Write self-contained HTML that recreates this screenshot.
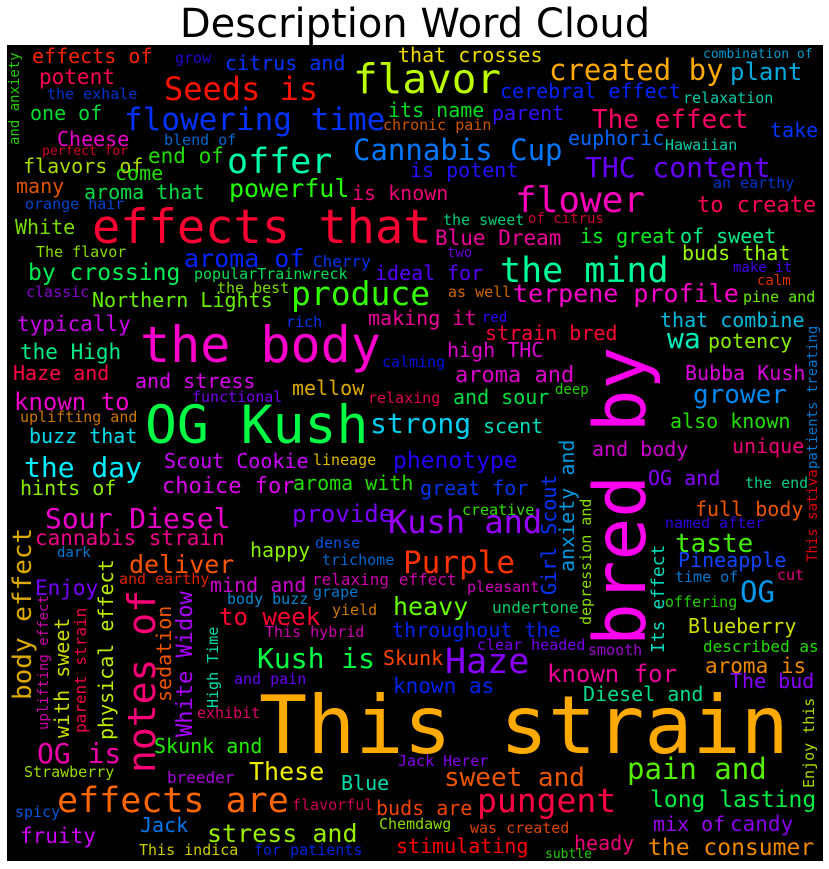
<!DOCTYPE html>
<html><head><meta charset="utf-8"><title>Description Word Cloud</title>
<style>
html,body{margin:0;padding:0;background:#fff;}
body{width:829px;height:869px;overflow:hidden;}
svg{display:block;}
#words text{font-family:"DejaVu Sans Mono","Liberation Mono",monospace;}
</style></head>
<body>
<svg id="chart" width="829" height="869" xmlns="http://www.w3.org/2000/svg">
<text x="415" y="37" text-anchor="middle" font-size="40" style="font-family:'DejaVu Sans','Liberation Sans',sans-serif" fill="#000">Description Word Cloud</text>
<rect x="7" y="45" width="816" height="816" fill="#000"/>
<g id="words"></g>
</svg>
<script>
const words=["effects of","grow","citrus and","flavor","that crosses","combination of","potent","Seeds is","created by","plant",
"the exhale","cerebral effect","relaxation","one of","flowering time","its name","parent","The effect","chronic pain","take",
"Cheese","blend of","euphoric","Hawaiian","Cannabis Cup","perfect for","end of","offer","THC content","flavors of",
"come","is potent","an earthy","flower","many","aroma that","powerful","is known","to create","orange hair",
"effects that","the sweet","of citrus","White","The flavor","two","aroma of","Cherry","Blue Dream","is great",
"of sweet","buds that","the mind","make it","classic","popularTrainwreck","ideal","for","calm","the best",
"as well","pine and","by crossing","produce","terpene profile","Northern Lights","making it","red","that combine","typically",
"wa","strain bred","rich","the body","potency","the High","high THC","calming","Haze and","and stress",
"aroma and","mellow","Bubba Kush","known to","relaxing","and sour","deep","grower","uplifting and","functional",
"OG Kush","strong","scent","also known","buzz that","unique","and body","the day","Scout Cookie","lineage",
"phenotype","hints of","choice for","aroma with","great for","OG and","the end","full body","creative","provide",
"Kush and","Sour Diesel","named after","cannabis strain","dark","dense","taste","deliver","Purple","trichome",
"happy","Pineapple","OG","Enjoy","and earthy","mind and","time of","relaxing effect","cut","body buzz",
"grape","heavy","pleasant","to week","yield","undertone","offering","throughout the","Kush is","Haze",
"This hybrid","Blueberry","clear headed","smooth","described as","Skunk","known for","aroma is","and pain","known as",
"The bud","exhibit","This strain","Diesel and","OG is","Skunk and","These","Jack Herer","breeder","Strawberry",
"Blue","sweet and","pain and","effects are","flavorful","pungent","long lasting","spicy","Chemdawg","mix of",
"candy","buds are","Jack","stress and","was created","fruity","heady","stimulating","the consumer","This indica",
"for patients","subtle",
"and anxiety","bred by","notes of","body effect","with sweet","physical effect","White Widow","sedation","High Time","parent strain",
"uplifting effect","Girl Scout","anxiety and","depression and","Its effect","This sativa","patients treating","Enjoy this"];
const fontSizes=[20,15,20,41,20,13,21,32,29,24,
15,20,15,20,31,20,20,26,15,20,
20,15,20,15,29,13,21,35,28,20,
20,20,15,36,20,20,25,20,22,15,
47,15,14,20,15,14,25,16,21,20,
20,20,35,14,15,15,20,20,14,15,
15,15,23,33,25,20,20,14,20,21,
28,20,15,50,20,21,20,15,20,20,
22,20,20,24,15,20,14,26,15,15,
53,28,20,20,20,20,20,28,20,15,
23,20,22,20,20,20,15,20,15,24,
32,28,15,21,14,15,26,25,31,15,
20,20,29,21,15,20,15,16,15,15,
15,25,15,24,15,16,15,20,28,35,
15,20,15,15,16,20,24,21,15,21,
20,15,80,20,28,20,25,15,16,15,
20,26,29,35,15,33,23,15,15,20,
21,20,20,25,15,21,20,20,23,15,
15,13,
14,71,38,26,20,20,22,20,15,16,
14,20,20,15,18,14,14,15];
const colors=["#ff2200","#2200cc","#0033ff","#bbff00","#eedd00","#0099cc","#ff0055","#ff1100","#ffaa00","#00aadd",
"#0033cc","#0022ff","#00ccaa","#00dd33","#0033ff","#00dd22","#3311ff","#ff0066","#cc5500","#0033ff",
"#ee00cc","#0066cc","#0066ff","#00ccaa","#0077ff","#cc0022","#22dd00","#00ffaa","#6600ff","#aadd00",
"#22dd00","#2211ff","#0033cc","#ff00bb","#dd5500","#00dd44","#22ff00","#ee0077","#ff0055","#0044cc",
"#ff0033","#00cc77","#cc0033","#77dd00","#88dd00","#6600cc","#0022ff","#0033ee","#ee0099","#00ee22",
"#00ee88","#99ff00","#00ff99","#4400ee","#8800cc","#00dd55","#5500ff","#5500ff","#dd3300","#77dd00",
"#cc6600","#66ee00","#00ee55","#33ff00","#ff00cc","#66ee00","#ee0099","#3300ff","#00bbdd","#cc00ee",
"#00eebb","#ff0033","#0033ee","#ff00cc","#88ee00","#00ee88","#dd00cc","#0011dd","#ff0044","#dd00ee",
"#dd00cc","#ddaa00","#dd00dd","#ee00cc","#dd0055","#00dd44","#22cc00","#0088ee","#cc7700","#7700ee",
"#00ff44","#00ccee","#00ddbb","#22dd00","#00ddee","#ee0077","#cc00cc","#00eeff","#cc00ff","#ddbb00",
"#2200ff","#88ee00","#dd00ee","#22dd00","#0033ee","#8800ff","#00cc88","#ee5500","#33dd00","#7700ff",
"#9900ff","#ee00cc","#3300dd","#ee0088","#0077cc","#0055dd","#44ee00","#ff5500","#ff3300","#0066cc",
"#88ee00","#1144ff","#0099ee","#7700ff","#dd2200","#cc00cc","#0077cc","#cc00aa","#dd0077","#0088cc",
"#0077cc","#66ff00","#cc00bb","#ff0033","#cc7700","#00cc66","#22cc00","#0022ee","#00ff44","#8800ff",
"#cc00aa","#ccdd00","#7700ee","#9900cc","#22dd00","#ff4400","#ee0099","#ee8800","#6600ee","#0022ee",
"#8800ff","#dd0066","#ffaa00","#00dd88","#ee00aa","#22ee00","#eeee00","#8800ee","#aa00dd","#99dd00",
"#00ddaa","#ee5500","#55ee00","#ff6600","#cc0055","#ff0044","#00ee44","#0055dd","#88dd00","#9900ee",
"#8800ee","#ee4400","#0077ee","#99ee00","#dd4400","#cc00ff","#ee0077","#ff0000","#ee8800","#cccc00",
"#0022dd","#22cc00",
"#22cc00","#ff00ee","#ff0077","#ddaa00","#ccdd00","#bbee00","#aa00ff","#ee5500","#00ddaa","#ee0044",
"#cc00aa","#0033ff","#0099dd","#88dd00","#00ddbb","#dd0000","#0077cc","#aadd00"];
const xPos=[32,175,225,353,398,703,39,164,549,730,
47,500,683,30,124,388,492,592,383,770,
57,164,568,665,353,42,148,227,585,23,
115,410,713,515,16,84,229,352,697,25,
92,443,528,15,36,447,184,313,435,580,
680,682,500,733,26,194,375,447,757,217,
448,743,28,291,513,92,368,482,660,17,
667,485,286,140,708,20,447,382,13,135,
455,292,685,14,368,453,555,693,20,192,
145,370,483,670,29,732,592,24,164,313,
393,20,162,293,420,648,745,695,462,292,
388,45,665,35,57,315,675,129,403,322,
250,678,740,35,119,210,675,312,777,227,
313,393,467,219,332,492,665,392,257,445,
265,688,477,588,703,383,547,705,234,393,
730,197,259,583,37,154,249,398,167,24,
341,444,627,57,292,477,650,15,379,653,
730,376,140,207,470,20,574,396,648,139,
254,545,
19,645,155,31,69,113,192,171,218,86,
48,556,574,591,664,817,817,814];
const yPos=[63,63,70,93,62,58,84,100,80,80,
99,98,103,120,130,117,120,128,130,137,
146,145,145,150,160,155,163,173,177,173,
180,177,188,212,193,199,197,200,212,209,
243,225,223,234,257,257,267,267,245,243,
243,260,282,272,297,279,280,280,285,293,
297,302,280,305,302,307,325,322,327,331,
348,340,327,362,348,359,357,367,380,388,
382,395,380,410,403,404,394,403,422,402,
443,433,433,428,443,453,456,477,468,465,
468,495,493,490,495,485,488,516,515,522,
533,528,528,545,557,548,552,573,573,565,
557,567,602,595,584,592,582,585,580,604,
597,615,592,625,615,613,607,637,668,673,
637,633,650,655,652,665,682,673,684,693,
688,718,753,701,763,753,780,766,783,777,
790,786,779,812,810,812,807,817,829,831,
831,815,832,842,833,843,850,853,855,855,
855,858,
145,646,773,700,738,740,737,702,708,733,
730,595,572,625,653,562,469,788];
const rot=[];
words.forEach((w,i)=>rot.push(i>=182?-90:0));

const g=document.getElementById('words');
words.forEach((w,i)=>{
  const t=document.createElementNS('http://www.w3.org/2000/svg','text');
  t.setAttribute('x',xPos[i]);
  t.setAttribute('y',yPos[i]);
  t.setAttribute('font-size',fontSizes[i]);
  t.setAttribute('fill',colors[i]);
  if(rot[i]) t.setAttribute('transform','rotate(-90 '+xPos[i]+' '+yPos[i]+')');
  t.textContent=w;
  
  
  g.appendChild(t);
});
</script>
</body></html>
